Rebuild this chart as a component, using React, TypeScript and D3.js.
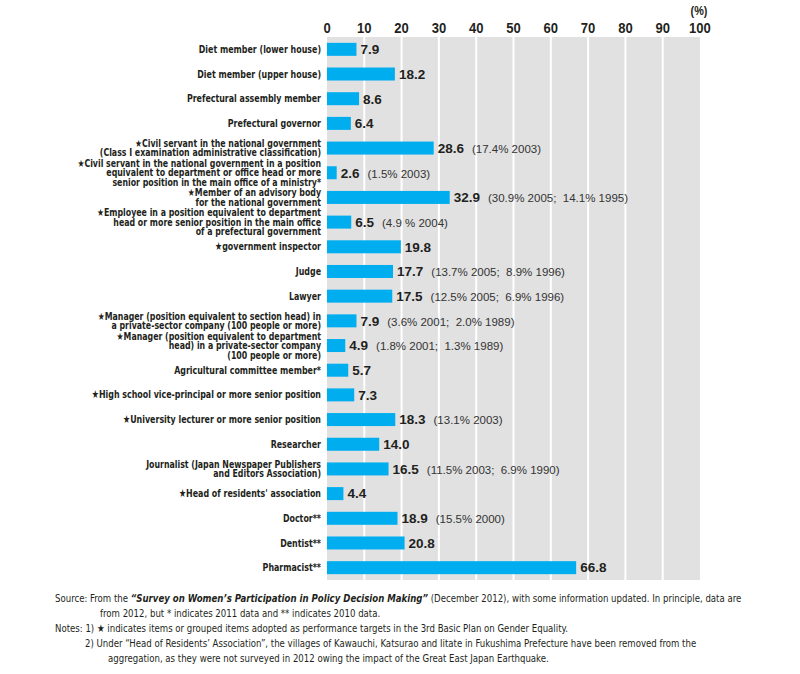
import React from "react";
import * as d3 from "d3";

const categories: string[][] = [
  ["Diet member (lower house)"],
  ["Diet member (upper house)"],
  ["Prefectural assembly member"],
  ["Prefectural governor"],
  ["★Civil servant in the national government", "(Class I examination administrative classification)"],
  ["★Civil servant in the national government in a position", "equivalent to department or office head or more", "senior position in the main office of a ministry*"],
  ["★Member of an advisory body", "for the national government"],
  ["★Employee in a position equivalent to department", "head or more senior position in the main office", "of a prefectural government"],
  ["★government inspector"],
  ["Judge"],
  ["Lawyer"],
  ["★Manager (position equivalent to section head) in", "a private-sector company (100 people or more)"],
  ["★Manager (position equivalent to department", "head) in a private-sector company", "(100 people or more)"],
  ["Agricultural committee member*"],
  ["★High school vice-principal or more senior position"],
  ["★University lecturer or more senior position"],
  ["Researcher"],
  ["Journalist (Japan Newspaper Publishers", "and Editors Association)"],
  ["★Head of residents' association"],
  ["Doctor**"],
  ["Dentist**"],
  ["Pharmacist**"],
];

const values: number[] = [7.9, 18.2, 8.6, 6.4, 28.6, 2.6, 32.9, 6.5, 19.8, 17.7, 17.5, 7.9, 4.9, 5.7, 7.3, 18.3, 14.0, 16.5, 4.4, 18.9, 20.8, 66.8];

const pastValues: string[] = [
  "", "", "", "", "(17.4% 2003)", "(1.5% 2003)", "(30.9% 2005;  14.1% 1995)", "(4.9 % 2004)", "",
  "(13.7% 2005;  8.9% 1996)", "(12.5% 2005;  6.9% 1996)", "(3.6% 2001;  2.0% 1989)", "(1.8% 2001;  1.3% 1989)",
  "", "", "(13.1% 2003)", "", "(11.5% 2003;  6.9% 1990)", "", "(15.5% 2000)", "", "",
];

const ticks: number[] = [0, 10, 20, 30, 40, 50, 60, 70, 80, 90, 100];

const BAR = "#00aeef";
const COND = "'DejaVu Sans Condensed', 'DejaVu Sans', sans-serif";
const SANS = "'Liberation Sans', Arial, sans-serif";

function SqText({ x, y, sx, anchor, children, ...rest }: any) {
  return (
    <text transform={`translate(${x},${y}) scale(${sx},1)`} textAnchor={anchor || "start"} {...rest}>
      {children}
    </text>
  );
}

export default function App() {
  const x = d3.scaleLinear().domain([0, 100]).range([327, 700]);
  const y = d3.scaleBand<number>().domain(d3.range(categories.length)).range([37, 580]).padding(0);
  const barH = 13;
  const lineH = 9.6;

  return (
    <svg width={800} height={674} style={{ position: "absolute", left: 0, top: 0, background: "#fff" }}>
      <rect x={x(0)} y={37} width={x(100) - x(0)} height={543} fill="#e1e1e1" />
      {ticks.slice(1, -1).map((t) => (
        <line key={"g" + t} x1={x(t)} x2={x(t)} y1={37} y2={580} stroke="#fff" strokeWidth={2} />
      ))}
      {ticks.map((t) => (
        <SqText key={"t" + t} x={x(t)} y={32.5} sx={0.9} anchor="middle" fontFamily={SANS} fontWeight="bold" fontSize={14.5} fill="#231f20">
          {t}
        </SqText>
      ))}
      <SqText x={x(100) - 1} y={15} sx={0.9} anchor="middle" fontFamily={SANS} fontWeight="bold" fontSize={12} fill="#231f20">(%)</SqText>

      {categories.map((lines, i) => {
        const cy = (y(i) as number) + y.bandwidth() / 2;
        const v = values[i];
        const x1 = x(v);
        return (
          <g key={i}>
            <rect x={x(0)} y={cy - barH / 2} width={x1 - x(0)} height={barH} fill={BAR} />
            {lines.map((l, j) => (
              <SqText
                key={j}
                x={321}
                y={cy + 3.6 + (j - (lines.length - 1) / 2) * lineH}
                sx={lines.length > 1 ? 0.86 : 0.8}
                anchor="end"
                fontFamily={COND}
                fontWeight="bold"
                fontSize={lines.length > 1 ? 10.15 : 11}
                fill="#231f20"
              >
                {l}
              </SqText>
            ))}
            <text x={x1 + 4} y={cy + 4.8} fontFamily={SANS} fill="#231f20">
              <tspan fontWeight="bold" fontSize={13.5}>{v.toFixed(1)}</tspan>
              {pastValues[i] ? (
                <tspan dx={8} fontSize={11.5} fill="#333">{pastValues[i].replace(/ {2}/g, "\u00a0\u00a0")}</tspan>
              ) : null}
            </text>
          </g>
        );
      })}

      <g fontFamily={COND} fontSize={10.6} fill="#231f20">
        <SqText x={55} y={602} sx={0.9}>
          Source: From the <tspan fontWeight="bold" fontStyle="italic">“Survey on Women’s Participation in Policy Decision Making”</tspan> (December 2012), with some information updated. In principle, data are
        </SqText>
        <SqText x={100} y={617} sx={0.9}>from 2012, but * indicates 2011 data and ** indicates 2010 data.</SqText>
        <SqText x={55} y={632} sx={0.9}>Notes: 1) ★ indicates items or grouped items adopted as performance targets in the 3rd Basic Plan on Gender Equality.</SqText>
        <SqText x={85} y={647} sx={0.9}>2) Under “Head of Residents’ Association”, the villages of Kawauchi, Katsurao and Iitate in Fukushima Prefecture have been removed from the</SqText>
        <SqText x={108} y={662} sx={0.9}>aggregation, as they were not surveyed in 2012 owing the impact of the Great East Japan Earthquake.</SqText>
      </g>
    </svg>
  );
}
